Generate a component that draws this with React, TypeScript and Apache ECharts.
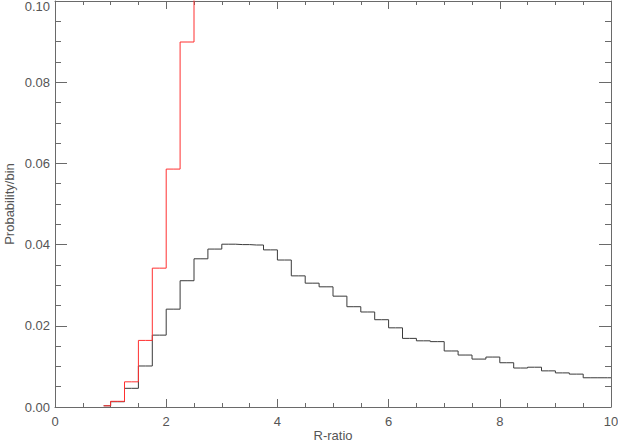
import React, { useEffect, useRef } from "react";
import * as echarts from "echarts";

// Bin centres (bin width 0.25) and probabilities per bin
const blackCenters = [
  0.875, 1.125, 1.375, 1.625, 1.875, 2.125, 2.375, 2.625, 2.875, 3.125, 3.375, 3.625, 3.875,
  4.125, 4.375, 4.625, 4.875, 5.125, 5.375, 5.625, 5.875, 6.125, 6.375, 6.625, 6.875,
  7.125, 7.375, 7.625, 7.875, 8.125, 8.375, 8.625, 8.875, 9.125, 9.375, 9.625, 9.875,
];
const blackValues = [
  0.0003, 0.0013, 0.0046, 0.0101, 0.0177, 0.0241, 0.0311, 0.0365, 0.0389, 0.0401, 0.04, 0.0399, 0.0387,
  0.0362, 0.0323, 0.0305, 0.0296, 0.0273, 0.0247, 0.0234, 0.0215, 0.0195, 0.0169, 0.0163, 0.0161,
  0.0138, 0.0128, 0.0118, 0.0123, 0.0109, 0.0096, 0.0098, 0.0089, 0.0084, 0.0081, 0.0072, 0.0072,
];
const redCenters = [0.875, 1.125, 1.375, 1.625, 1.875, 2.125, 2.375, 2.625];
const redValues = [0.0003, 0.0014, 0.0062, 0.0164, 0.0342, 0.0586, 0.0899, 0.125];
const BIN_WIDTH = 0.25;
const xTicks = [0, 2, 4, 6, 8, 10];
const yTicks = [0, 0.02, 0.04, 0.06, 0.08, 0.1];

function stepData(centers: number[], values: number[]) {
  const d = centers.map((c, i) => [c, values[i]]);
  // extend the last bin to its right edge (psym=10 style)
  d.push([centers[centers.length - 1] + BIN_WIDTH / 2, values[values.length - 1]]);
  return d;
}

const FONT = "Liberation Sans";
const TEXT = "#555";
const AXIS = "#6a6a6a";

export default function App() {
  const ref = useRef<HTMLDivElement>(null);
  useEffect(() => {
    const chart = echarts.init(ref.current!, null, { renderer: "svg" });
    const xBase = {
      type: "value" as const,
      min: xTicks[0],
      max: xTicks[xTicks.length - 1],
      interval: 2,
      splitLine: { show: false },
      axisLine: { show: true, onZero: false, lineStyle: { color: AXIS, width: 1 } },
      axisTick: { show: true, inside: true, length: 8, lineStyle: { color: AXIS } },
      minorTick: { show: true, splitNumber: 4, length: 4, lineStyle: { color: AXIS } },
    };
    const yBase = {
      type: "value" as const,
      min: yTicks[0],
      max: yTicks[yTicks.length - 1],
      interval: 0.02,
      splitLine: { show: false },
      axisLine: { show: true, onZero: false, lineStyle: { color: AXIS, width: 1 } },
      axisTick: { show: true, inside: true, length: 12, lineStyle: { color: AXIS } },
      minorTick: { show: true, splitNumber: 4, length: 6, lineStyle: { color: AXIS } },
    };
    chart.setOption({
      animation: false,
      backgroundColor: "#fff",
      grid: { left: 55, right: 7, top: 1, bottom: 37, containLabel: false, outerBoundsMode: "none" },
      xAxis: [
        {
          ...xBase,
          position: "bottom",
          name: "R-ratio",
          nameLocation: "middle",
          nameGap: 22,
          nameMoveOverlap: false,
          nameTextStyle: {
            color: TEXT,
            fontFamily: FONT,
            fontSize: 13,
            lineHeight: 13,
            verticalAlign: "top",
          },
          axisLabel: { color: TEXT, fontFamily: FONT, fontSize: 13, margin: 8 },
        },
        { ...xBase, position: "top", axisLabel: { show: false } },
      ],
      yAxis: [
        {
          ...yBase,
          position: "left",
          name: "Probability/bin",
          nameLocation: "middle",
          nameGap: 39,
          nameMoveOverlap: false,
          nameTextStyle: { color: TEXT, fontFamily: FONT, fontSize: 13 },
          axisLabel: {
            color: TEXT,
            fontFamily: FONT,
            fontSize: 13,
            margin: 5,
            formatter: (v: number) =>
              Math.abs(v - 0.1) < 1e-9 ? "{top|" + v.toFixed(2) + "}" : v.toFixed(2),
            rich: { top: { color: TEXT, fontFamily: FONT, fontSize: 13, padding: [10, 0, 0, 0] } },
          },
        },
        { ...yBase, position: "right", axisLabel: { show: false } },
      ],
      series: [
        {
          type: "line",
          step: "middle",
          symbol: "none",
          clip: true,
          data: stepData(blackCenters, blackValues),
          lineStyle: { color: "#3a3a3a", width: 1 },
          z: 2,
        },
        {
          type: "line",
          step: "middle",
          symbol: "none",
          clip: true,
          data: stepData(redCenters, redValues),
          lineStyle: { color: "#ff3030", width: 1 },
          z: 3,
        },
      ],
    });
    return () => chart.dispose();
  }, []);
  return (
    <div
      ref={ref}
      style={{ position: "fixed", left: 0, top: 0, width: 618, height: 444 }}
    />
  );
}
